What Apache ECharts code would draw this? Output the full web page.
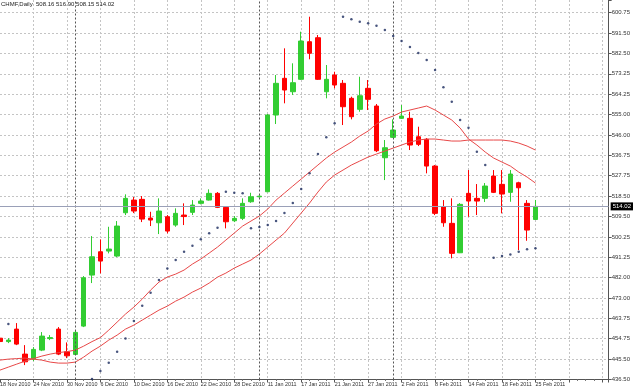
<!DOCTYPE html>
<html><head><meta charset="utf-8">
<script src="https://cdn.jsdelivr.net/npm/echarts@6/dist/echarts.min.js"></script>
<style>html,body{margin:0;padding:0;background:#fff;overflow:hidden;width:633px;height:391px;position:relative}#c{position:absolute;left:-3px;top:0;width:636px;height:391px}</style>
</head><body><div id="c"></div><script>
const titleText = 'CHMF,Daily  508.16 516.90 508.15 514.02';
const dates = ['18 Nov 2010','19 Nov 2010','22 Nov 2010','23 Nov 2010','24 Nov 2010','25 Nov 2010','26 Nov 2010','29 Nov 2010','30 Nov 2010','1 Dec 2010','2 Dec 2010','3 Dec 2010','6 Dec 2010','7 Dec 2010','8 Dec 2010','9 Dec 2010','10 Dec 2010','13 Dec 2010','14 Dec 2010','15 Dec 2010','16 Dec 2010','17 Dec 2010','20 Dec 2010','21 Dec 2010','22 Dec 2010','23 Dec 2010','24 Dec 2010','27 Dec 2010','28 Dec 2010','29 Dec 2010','30 Dec 2010','10 Jan 2011','11 Jan 2011','12 Jan 2011','13 Jan 2011','14 Jan 2011','17 Jan 2011','18 Jan 2011','19 Jan 2011','20 Jan 2011','21 Jan 2011','24 Jan 2011','25 Jan 2011','26 Jan 2011','27 Jan 2011','28 Jan 2011','31 Jan 2011','1 Feb 2011','2 Feb 2011','3 Feb 2011','4 Feb 2011','7 Feb 2011','8 Feb 2011','9 Feb 2011','10 Feb 2011','11 Feb 2011','14 Feb 2011','15 Feb 2011','16 Feb 2011','17 Feb 2011','18 Feb 2011','21 Feb 2011','22 Feb 2011','24 Feb 2011','25 Feb 2011'];
const opens = [455.0,453.47,459.07,447.87,445.63,449.66,454.82,459.07,448.90,447.74,460.41,483.26,493.70,494.01,491.77,511.17,516.85,517.17,508.79,506.69,509.37,505.66,510.14,511.35,515.38,516.85,519.86,513.58,507.58,508.66,516.09,518.3,520.57,554.93,571.37,565.36,570.92,587.76,589.55,565.36,572.85,569.13,562.41,557.48,566.89,558.96,535.80,544.94,553.45,553.45,545.21,544.04,532.08,513.85,506.42,493.25,519.86,517.62,517.62,527.60,523.89,520.30,524.60,515.38,508.16];
const closes = [453.5,454.14,452.35,444.42,449.98,455.94,455.26,447.87,447.11,457.59,482.05,491.46,489.53,494.91,505.21,517.62,511.93,508.34,507.90,511.93,502.97,510.90,509.46,514.61,516.41,519.86,513.58,507.13,508.66,515.38,518.33,518.6,554.93,569.13,566.13,569.40,588.07,582.57,570.92,570.92,568.37,558.65,554.17,563.57,561.96,538.94,540.28,548.21,554.48,541.49,541.80,532.08,510.90,506.69,492.98,514.93,516.41,516.41,523.13,520.30,519.54,528.50,522.36,503.42,514.02];
const lows = [452.0,452.80,451.90,442.95,444.74,449.22,454.14,447.42,446.08,447.42,459.97,479.68,484.02,492.98,491.32,510.14,511.03,507.00,505.21,501.62,501.94,504.89,505.66,510.14,514.93,516.63,513.27,504.18,507.00,507.90,515.64,518.0,520.44,550.90,560.17,563.89,570.61,579.88,570.61,562.41,566.89,550.45,553.00,556.41,557.17,538.35,525.81,544.63,553.14,539.25,541.04,528.81,510.14,504.89,490.74,493.11,509.37,510.14,515.96,519.99,510.90,516.09,494.46,498.62,508.15];
const highs = [456.0,455.04,461.76,451.90,451.01,457.73,456.38,459.97,453.11,458.62,482.81,500.73,499.25,504.89,507.45,519.41,518.20,518.65,511.61,517.62,510.14,513.14,515.38,516.85,517.62,521.65,520.44,514.17,509.69,517.62,520.12,518.9,555.38,572.85,584.80,578.09,592.24,598.96,590.76,577.32,574.32,570.61,563.13,572.08,570.61,559.86,543.73,553.00,559.41,556.41,549.69,544.63,532.53,516.85,517.62,515.51,530.29,524.02,524.47,530.29,530.29,530.29,525.05,516.85,516.90];
const maFast = [440.71,442.05,443.39,444.74,445.86,446.98,447.87,448.55,448.99,449.66,451.45,453.47,455.27,458.62,462.21,465.79,468.93,472.51,476.54,480.12,482.36,483.71,485.50,488.19,490.43,493.11,495.80,498.94,502.07,505.21,507.45,509.69,512.82,516.85,519.99,523.13,526.26,529.40,532.53,535.67,538.35,540.59,542.83,545.52,547.76,550.90,553.14,554.48,556.27,557.17,558.06,558.96,557.17,554.93,552.69,549.11,544.18,541.49,538.35,535.67,533.87,532.08,529.40,527.16,524.47];
const maSlow = [445.19,445.63,445.86,446.08,445.63,445.19,444.29,443.84,443.84,444.29,446.53,449.22,451.45,454.14,456.38,459.07,460.86,463.10,465.34,467.58,469.37,471.61,473.40,475.64,477.44,479.68,482.36,484.15,486.39,488.19,489.98,492.67,495.80,498.94,502.07,506.55,511.03,515.51,520.44,524.92,528.05,530.29,532.53,534.32,536.11,537.46,538.80,540.14,541.49,542.83,543.73,544.18,544.18,543.73,543.28,543.28,543.73,543.73,543.73,543.73,543.73,543.28,542.38,541.04,539.25];
const sar = [null,461.31,null,null,null,null,null,null,null,null,null,436.67,440.26,443.98,448.90,454.90,462.65,469.51,475.33,481.02,486.26,489.98,493.70,496.38,499.25,501.94,504.45,520.57,520.12,519.86,504.18,504.76,505.66,507.45,511.03,515.51,521.78,528.81,537.46,544.94,551.21,598.96,597.79,596.72,596.00,594.93,593.00,590.31,588.08,585.39,582.70,579.57,575.10,567.33,560.89,552.69,549.24,538.49,532.53,491.01,491.77,492.53,493.70,494.77,495.22];
const yTickLabels = ['436.50','445.50','454.75','463.75','473.00','482.00','491.25','500.25','509.50','518.50','527.75','536.75','546.00','555.00','564.25','573.25','582.50','591.50','600.75'];
const lastPrice = 514.02;

const priceMin = 436.5, priceMax = 606.44, priceStep = 9.125;
const xMax = 72.75;
const FONT = "'Liberation Sans',Arial,sans-serif";

const candleData = dates.map((d, i) => [i, opens[i], closes[i], lows[i], highs[i]]);
const fastData = maFast.map((v, i) => [i, v]);
const slowData = maSlow.map((v, i) => [i, v]);
const sarData = sar.map((v, i) => [i, v]).filter(p => p[1] !== null);
const sepData = [];
dates.forEach((d, i) => {
  if (i > 0 && d.split(' ')[1] !== dates[i - 1].split(' ')[1]) sepData.push({ xAxis: i });
});

const chart = echarts.init(document.getElementById('c'), null, { renderer: 'canvas' });
chart.setOption({
  animation: false,
  backgroundColor: '#ffffff',
  title: { text: titleText, left: 4, top: 1, padding: 0,
    textStyle: { fontSize: 6, fontWeight: 'normal', color: '#222', fontFamily: FONT } },
  grid: { left: 0, right: 22, top: 0, bottom: 11.5 },
  xAxis: {
    type: 'value', min: 0, max: xMax, interval: 4,
    axisLine: { show: true, onZero: false, lineStyle: { color: '#555', width: 1 } },
    axisTick: { show: true, length: 3, lineStyle: { color: '#555' } },
    minorTick: { show: true, splitNumber: 4, length: 1.5, lineStyle: { color: '#777' } },
    axisLabel: { show: true, align: 'left', margin: 3, fontSize: 5.4, color: '#333', fontFamily: FONT,
      showMinLabel: true, showMaxLabel: true, hideOverlap: false,
      formatter: v => { const r = Math.round(v); return (Math.abs(v - r) < 1e-6 && r % 4 === 0 && dates[r]) ? dates[r] : ''; } },
    splitLine: { show: true, showMinLine: false, showMaxLine: false, lineStyle: { color: '#c4c4c4', type: [2, 2], width: 1 } }
  },
  yAxis: [
    { type: 'value', min: priceMin, max: priceMax, show: false, position: 'right' },
    { type: 'value', min: 0, max: (priceMax - priceMin) / priceStep, interval: 1, position: 'right',
      axisLine: { show: true, lineStyle: { color: '#555', width: 1 } },
      axisTick: { show: true, length: 3, lineStyle: { color: '#555' } },
      axisLabel: { margin: 3, fontSize: 6, color: '#333', fontFamily: FONT, showMinLabel: true,
        formatter: v => { const r = Math.round(v); return (Math.abs(v - r) < 1e-6 && yTickLabels[r]) ? yTickLabels[r] : ''; } },
      splitLine: { show: true, showMaxLine: false, lineStyle: { color: '#c4c4c4', type: [2, 2], width: 1 } }
    }
  ],
  series: [
    { type: 'line', name: 'sep', data: [], yAxisIndex: 0, z: 1, silent: true,
      markLine: { silent: true, symbol: ['none', 'none'], label: { show: false },
        lineStyle: { color: '#555', type: [2, 2], width: 1 }, data: sepData } },
    { type: 'candlestick', name: 'CHMF', yAxisIndex: 0, z: 3, barWidth: 5,
      encode: { x: 0, y: [1, 2, 3, 4] },
      itemStyle: { color: '#32cd32', color0: '#ff0000', borderColor: '#32cd32', borderColor0: '#ff0000', borderWidth: 1 },
      data: candleData,
      markLine: { silent: true, symbol: ['none', 'none'],
        lineStyle: { color: '#9aa0b8', width: 1, type: 'solid' },
        label: { show: true, position: 'end', distance: 2, formatter: lastPrice.toFixed(2), color: '#fff',
          backgroundColor: '#000', padding: [1, 2, 1, 2], fontSize: 6, fontFamily: FONT },
        data: [{ yAxis: lastPrice }] } },
    { type: 'line', name: 'MA fast', yAxisIndex: 0, z: 4, data: fastData, showSymbol: false, symbol: 'none',
      lineStyle: { color: '#e84848', width: 1 } },
    { type: 'line', name: 'MA slow', yAxisIndex: 0, z: 4, data: slowData, showSymbol: false, symbol: 'none',
      lineStyle: { color: '#e84848', width: 1 } },
    { type: 'scatter', name: 'SAR', yAxisIndex: 0, z: 5, data: sarData, symbolSize: 2.5,
      itemStyle: { color: '#1a2a5e' } }
  ]
});
</script></body></html>
